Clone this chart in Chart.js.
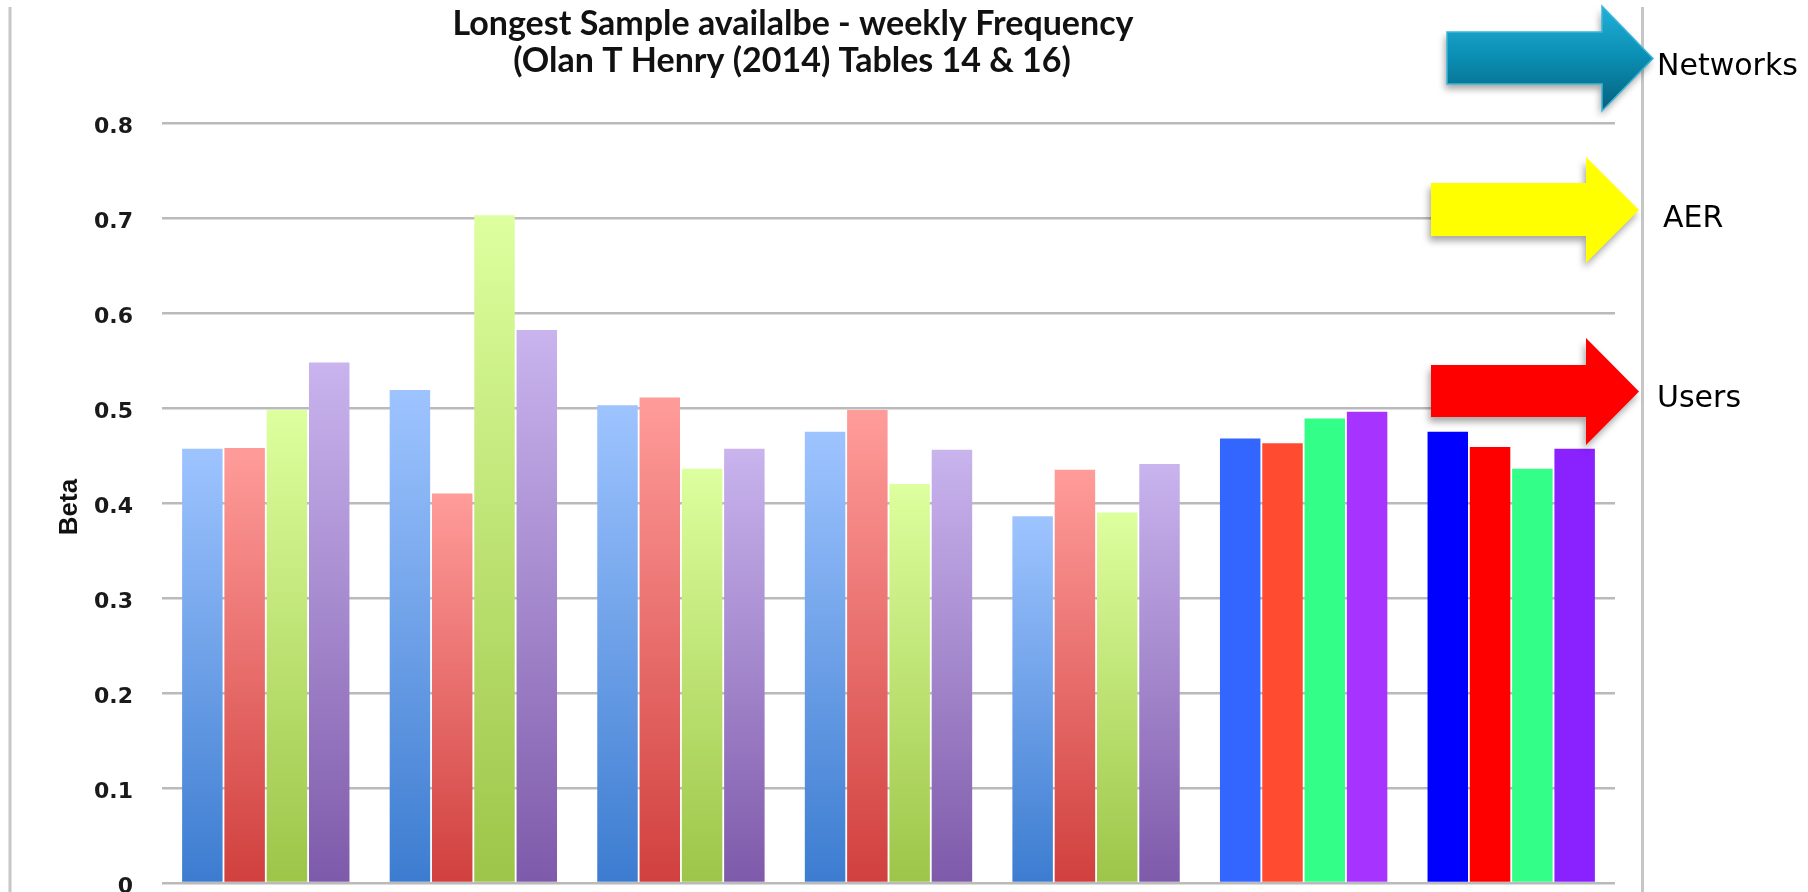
<!DOCTYPE html>
<html>
<head>
<meta charset="utf-8">
<script src="https://cdn.jsdelivr.net/npm/chart.js@4.4.1/dist/chart.umd.min.js"></script>
<style>
  html, body { margin: 0; padding: 0; background: #ffffff; overflow: hidden; }
  #wrap { width: 1808px; height: 1000px; }
</style>
</head>
<body>
<div id="wrap"><canvas id="c" width="1808" height="1000"></canvas></div>
<script>
// ---- data ----
const categories = ['Group 1', 'Group 2', 'Group 3', 'Group 4', 'Group 5', 'Group 6', 'Group 7'];
const seriesNames = ['Series 1', 'Series 2', 'Series 3', 'Series 4'];
const blueValues   = [0.457, 0.519, 0.503, 0.475, 0.386, 0.468, 0.475];
const redValues    = [0.458, 0.410, 0.511, 0.498, 0.435, 0.463, 0.459];
const greenValues  = [0.498, 0.703, 0.436, 0.420, 0.390, 0.489, 0.436];
const purpleValues = [0.548, 0.582, 0.457, 0.456, 0.441, 0.496, 0.457];
const yTicks = [0, 0.1, 0.2, 0.3, 0.4, 0.5, 0.6, 0.7, 0.8];
const titleLines = ['Longest Sample availalbe - weekly Frequency', '(Olan T Henry (2014) Tables 14 & 16)'];
const yTitle = 'Beta';
const arrowLabels = ['Networks', 'AER', 'Users'];

// ---- styling ----
// gradient (top, bottom) used by the first five groups, then solid fills for groups 6 and 7
const palettes = [
  { grad: ['#9ec4ff', '#3c7cd0'], solid: ['#3366ff', '#0000ff'] },
  { grad: ['#ff9c9a', '#d0403e'], solid: ['#ff4b30', '#ff0000'] },
  { grad: ['#ddff9e', '#9dc548'], solid: ['#33ff88', '#33ff88'] },
  { grad: ['#c9b4ee', '#7e5aaa'], solid: ['#a633ff', '#8a22ff'] }
];
const GRID = '#bababa';
const FRAME = '#c6c6c6';

function barFill(seriesIdx) {
  return function (ctx) {
    const p = palettes[seriesIdx];
    const i = ctx.dataIndex;
    if (i >= 5) return p.solid[i - 5];
    const chart = ctx.chart;
    if (!chart.chartArea || !chart.scales.y) return p.grad[1];
    const y = chart.scales.y;
    const top = y.getPixelForValue(ctx.raw);
    const bottom = y.getPixelForValue(0);
    const g = chart.ctx.createLinearGradient(0, top, 0, bottom);
    g.addColorStop(0, p.grad[0]);
    g.addColorStop(1, p.grad[1]);
    return g;
  };
}

const valueSets = [blueValues, redValues, greenValues, purpleValues];
const datasets = valueSets.map((vals, s) => ({
  label: seriesNames[s],
  data: vals,
  backgroundColor: barFill(s),
  borderWidth: 0,
  categoryPercentage: 0.815,
  barPercentage: 0.957
}));

// frame, title, axis title and the three arrow call-outs
const decor = {
  id: 'decor',
  beforeDraw(chart) {
    const c = chart.ctx;
    c.save();
    c.fillStyle = '#ffffff';
    c.fillRect(0, 0, chart.width, chart.height);
    c.strokeStyle = FRAME;
    c.lineWidth = 3;
    c.beginPath();
    c.moveTo(10, 7); c.lineTo(10, chart.height);
    c.moveTo(1642.5, 7); c.lineTo(1642.5, chart.height);
    c.stroke();
    c.restore();
  },
  afterDraw(chart) {
    const c = chart.ctx;
    c.save();
    // title
    c.fillStyle = '#111111';
    c.textAlign = 'center';
    c.textBaseline = 'middle';
    c.font = 'bold 34px Lato';
    c.fillText(titleLines[0], 793, 24);
    c.fillText(titleLines[1], 792, 61);
    // y-axis title
    c.save();
    c.translate(77, 507);
    c.rotate(-Math.PI / 2);
    c.textBaseline = 'alphabetic';
    c.font = 'bold 26px "Liberation Sans"';
    c.fillStyle = '#111111';
    c.fillText(yTitle, 0, 0);
    c.restore();

    // arrows
    const arrows = [
      { x0: 1447, x1: 1602, tip: 1653, bt: 32, bb: 84, ht: 6, hb: 111, fill: 'teal' },
      { x0: 1431, x1: 1586, tip: 1639, bt: 183, bb: 236, ht: 157, hb: 263, fill: '#ffff00' },
      { x0: 1431, x1: 1586, tip: 1639, bt: 365, bb: 417, ht: 338, hb: 445, fill: '#ff0000' }
    ];
    arrows.forEach(a => {
      const cy = (a.ht + a.hb) / 2;
      c.beginPath();
      c.moveTo(a.x0, a.bt);
      c.lineTo(a.x1, a.bt);
      c.lineTo(a.x1, a.ht);
      c.lineTo(a.tip, cy);
      c.lineTo(a.x1, a.hb);
      c.lineTo(a.x1, a.bb);
      c.lineTo(a.x0, a.bb);
      c.closePath();
      c.save();
      c.shadowColor = 'rgba(0,0,0,0.35)';
      c.shadowBlur = 7;
      c.shadowOffsetX = -2;
      c.shadowOffsetY = 5;
      if (a.fill === 'teal') {
        const g = c.createLinearGradient(0, a.ht, 0, a.hb);
        g.addColorStop(0, '#22b0d8');
        g.addColorStop(0.5, '#0a8db2');
        g.addColorStop(1, '#07607c');
        c.fillStyle = g;
      } else {
        c.fillStyle = a.fill;
      }
      c.fill();
      c.restore();
      if (a.fill === 'teal') {
        c.strokeStyle = '#3cb6d8';
        c.lineWidth = 1.5;
        c.stroke();
      }
    });

    c.fillStyle = '#000000';
    c.textAlign = 'left';
    c.textBaseline = 'alphabetic';
    c.font = '30px "DejaVu Sans"';
    c.fillText(arrowLabels[0], 1657, 75);
    c.fillText(arrowLabels[1], 1663, 227);
    c.fillText(arrowLabels[2], 1657, 407);
    c.restore();
  }
};

new Chart(document.getElementById('c'), {
  type: 'bar',
  data: { labels: categories, datasets },
  options: {
    responsive: false,
    animation: false,
    events: [],
    layout: { padding: { top: 123, right: 193, bottom: 117, left: 0 } },
    plugins: { legend: { display: false }, title: { display: false }, tooltip: { enabled: false } },
    scales: {
      x: { display: false, grid: { display: false } },
      y: {
        min: 0,
        max: 0.8,
        afterFit(scale) { scale.width = 162; },
        afterBuildTicks(scale) { scale.ticks = yTicks.map(v => ({ value: v })); },
        border: { display: false },
        grid: { color: GRID, lineWidth: 2.5, drawTicks: false },
        ticks: {
          padding: 29,
          labelOffset: 4,
          color: '#1a1a1a',
          font: { family: '"DejaVu Sans"', weight: 'bold', size: 22 },
          callback: v => String(Math.round(v * 10) / 10)
        }
      }
    }
  },
  plugins: [decor]
});
</script>
</body>
</html>
